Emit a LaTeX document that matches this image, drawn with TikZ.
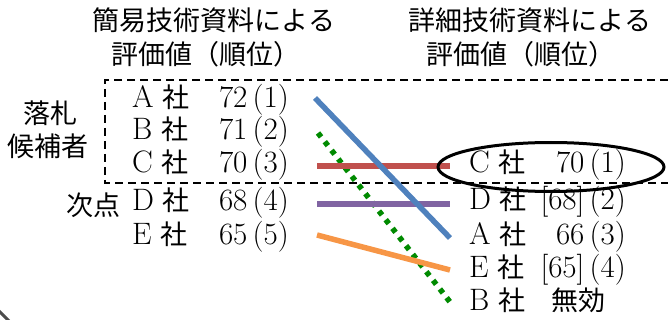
\documentclass[tikz,border=0pt]{standalone}
\usepackage{fontspec}
\newfontfamily\jp{Noto Sans CJK JP}
\usetikzlibrary{shapes}

\newcommand{\jpsize}{\fontsize{27}{30}\selectfont}
\newcommand{\sha}{{\jp\jpsize 社}}

\begin{document}
\begin{tikzpicture}[x = 1pt, y = -1pt]
\tikzstyle{TextStyle}=[font = \jpsize,
                       inner sep = 0pt]
\tikzstyle{RowStyle}=[font = \fontsize{31}{34}\selectfont,
                      inner sep = 0pt,
                      text height = 21pt,
                      text depth = 7pt]
\tikzstyle{FrameStyle}=[line width = 1.8pt,
                        dash pattern = on 8pt off 5pt]
\tikzstyle{MoveStyle}=[line width = 5.5pt]
\definecolor{moveblue}{HTML}{4F81BD}
\definecolor{movered}{HTML}{C0504D}
\definecolor{movepurple}{HTML}{8064A2}
\definecolor{moveorange}{HTML}{F79646}
\definecolor{movegreen}{HTML}{008A00}
\useasboundingbox (0,0) rectangle (668,320);
% titles
\node[TextStyle] (t1) at (214,20) {\jp 簡易技術資料による};
\node[TextStyle] (t2) at (206,54) {\jp 評価値（順位）};
\node[TextStyle] (t3) at (530,20) {\jp 詳細技術資料による};
\node[TextStyle] (t4) at (521,54) {\jp 評価値（順位）};
% groups
\draw[FrameStyle] (668,80) -- (105,80) -- (105,183) -- (668,183);
\node[TextStyle] (g1) at (50,113) {\jp 落札};
\node[TextStyle] (g2) at (48,146) {\jp 候補者};
\node[TextStyle] (g3) at (93,205) {\jp 次点};
% simple evaluation
\foreach \name/\val/\y in {A/72\,(1)/101, B/71\,(2)/133, C/70\,(3)/166, D/68\,(4)/204, E/65\,(5)/237}{
  \node[RowStyle, anchor = west] (l\name) at (132,\y) {\name\;\sha};
  \node[RowStyle, anchor = east] (lv\name) at (289,\y) {\val};
}
% detailed evaluation
\foreach \name/\val/\y in {C/70\,(1)/166, D/[68]\,(2)/203, A/66\,(3)/237, E/[65]\,(4)/270, B/{\jp\jpsize 無効}\rule{20pt}{0pt}/303}{
  \node[RowStyle, anchor = west] (r\name) at (469,\y) {\name\;\sha};
  \node[RowStyle, anchor = east] (rv\name) at (626,\y) {\val};
}
\coordinate (mA1) at (315,98);
\coordinate (mA2) at (450,238);
\coordinate (mB1) at (318,133);
\coordinate (mB2) at (450,302);
\coordinate (mC1) at (317,166);
\coordinate (mC2) at (450,166);
\coordinate (mD1) at (317,204);
\coordinate (mD2) at (450,204);
\coordinate (mE1) at (317,235);
\coordinate (mE2) at (450,270);
\draw[MoveStyle, movegreen, dash pattern = on 5pt off 6pt] (mB1) -- (mB2);
\draw[MoveStyle, movered] (mC1) -- (mC2);
\draw[MoveStyle, movepurple] (mD1) -- (mD2);
\draw[MoveStyle, moveorange] (mE1) -- (mE2);
\draw[MoveStyle, moveblue] (mA1) -- (mA2);
\node[draw, ellipse, line width = 3pt, minimum width = 226pt, minimum height = 49pt] (win) at (551,167) {};
\draw[gray!60!black, line width = 3pt] (-4,308) -- (10,322);
\end{tikzpicture}
\end{document}
